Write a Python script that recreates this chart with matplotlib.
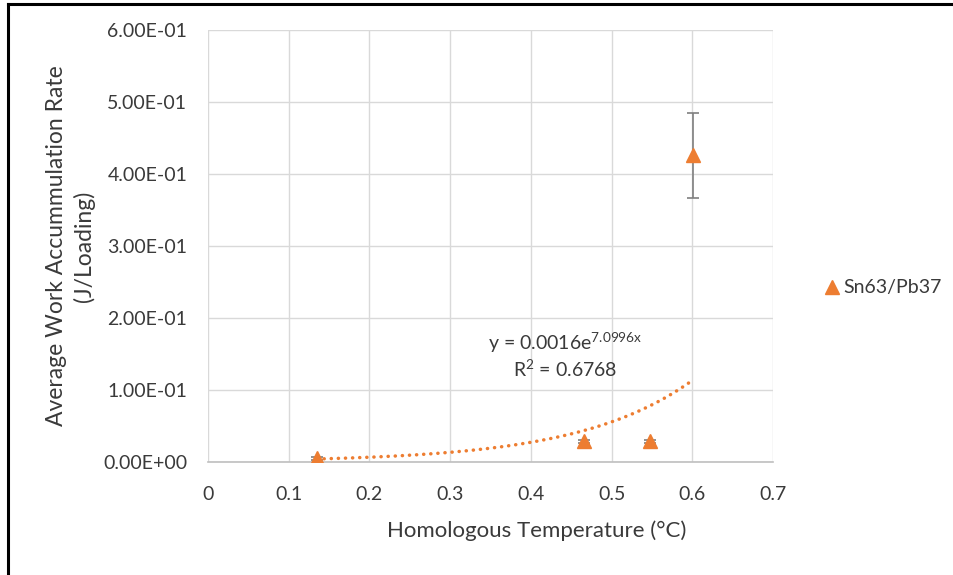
import matplotlib
matplotlib.use("Agg")
import matplotlib.pyplot as plt
from matplotlib.lines import Line2D
import numpy as np

plt.rcParams['font.family'] = ['Lato', 'DejaVu Sans']
plt.rcParams['mathtext.fontset'] = 'custom'
plt.rcParams['mathtext.rm'] = 'Lato'
plt.rcParams['mathtext.default'] = 'regular'

# homologous temperature vs average work accumulation rate
temps = [0.135, 0.466, 0.547, 0.601]
work_rate = [0.005, 0.029, 0.029, 0.426]
work_err = [0.002, 0.002, 0.002, 0.059]

# exponential trendline y = a*exp(b*x)
fit_a = 0.0016
fit_b = 7.0996
fit_r2 = 0.6768

y_ticks = [0.0, 0.1, 0.2, 0.3, 0.4, 0.5, 0.6]
x_ticks = [0, 0.1, 0.2, 0.3, 0.4, 0.5, 0.6, 0.7]

orange = '#ED7D31'
txt = '#3A3A3A'

fig = plt.figure(figsize=(9.54, 5.75), dpi=100)
ax = fig.add_axes([208 / 954, 1 - 462 / 575, (773 - 208) / 954, (462 - 30) / 575])

xs = np.linspace(min(temps), max(temps), 200)
ax.plot(xs, fit_a * np.exp(fit_b * xs), color=orange, lw=2.5,
        linestyle=(0, (0.05, 2.0)), dash_capstyle='round', zorder=2)

ax.errorbar(temps, work_rate, yerr=work_err, fmt='none', ecolor='#7F7F7F',
            elinewidth=1.2, capsize=4.5, capthick=1.2, zorder=3)
ax.plot(temps, work_rate, linestyle='none', marker='^', markersize=10,
        color=orange, label='Sn63/Pb37', zorder=4)

ax.set_xlim(0, 0.7)
ax.set_ylim(0, 0.6)
ax.set_xticks(x_ticks)
ax.set_xticklabels(['0' if t == 0 else '%g' % t for t in x_ticks])
ax.set_yticks(y_ticks)
ax.set_yticklabels(['%.2fE%+03d' % (v * 10, -1) if v else '0.00E+00' for v in y_ticks])
ax.tick_params(length=0, labelsize=14, colors=txt)
ax.tick_params(axis='y', pad=15)
ax.tick_params(axis='x', pad=17)
ax.grid(True, color='#D9D9D9', lw=1)
ax.set_axisbelow(True)
for side in ['top', 'right', 'left']:
    ax.spines[side].set_visible(False)
ax.spines['bottom'].set_color('#BFBFBF')
ax.spines['bottom'].set_linewidth(1.2)

# x title sits centred under the whole chart area, legend included
fig.text(537 / 954, 1 - 531 / 575, 'Homologous Temperature (°C)', fontsize=16,
         color=txt, ha='center', va='center')
ax.set_ylabel('Average Work Accummulation Rate\n(J/Loading)', fontsize=16.5,
              color=txt, labelpad=6, linespacing=1.3)

ax.text(0.442, 0.165, 'y = 0.0016e$^{7.0996x}$', fontsize=14, color=txt,
        ha='center', va='center')
ax.text(0.442, 0.129, 'R$^{2}$ = %.4f' % fit_r2, fontsize=14, color=txt,
        ha='center', va='center')

fig.legend(loc='center left', bbox_to_anchor=(808 / 954, 1 - 288 / 575), frameon=False,
           fontsize=14, handlelength=0.7, handletextpad=0.2, markerscale=0.95,
           labelcolor=txt)

# black frame on top and left edges
fig.add_artist(Line2D([8 / 954, 1], [1 - 4 / 575, 1 - 4 / 575], color='black', lw=2.2))
fig.add_artist(Line2D([8 / 954, 8 / 954], [0, 1 - 4 / 575], color='black', lw=2.2))

fig.savefig('out.png', dpi=100)
